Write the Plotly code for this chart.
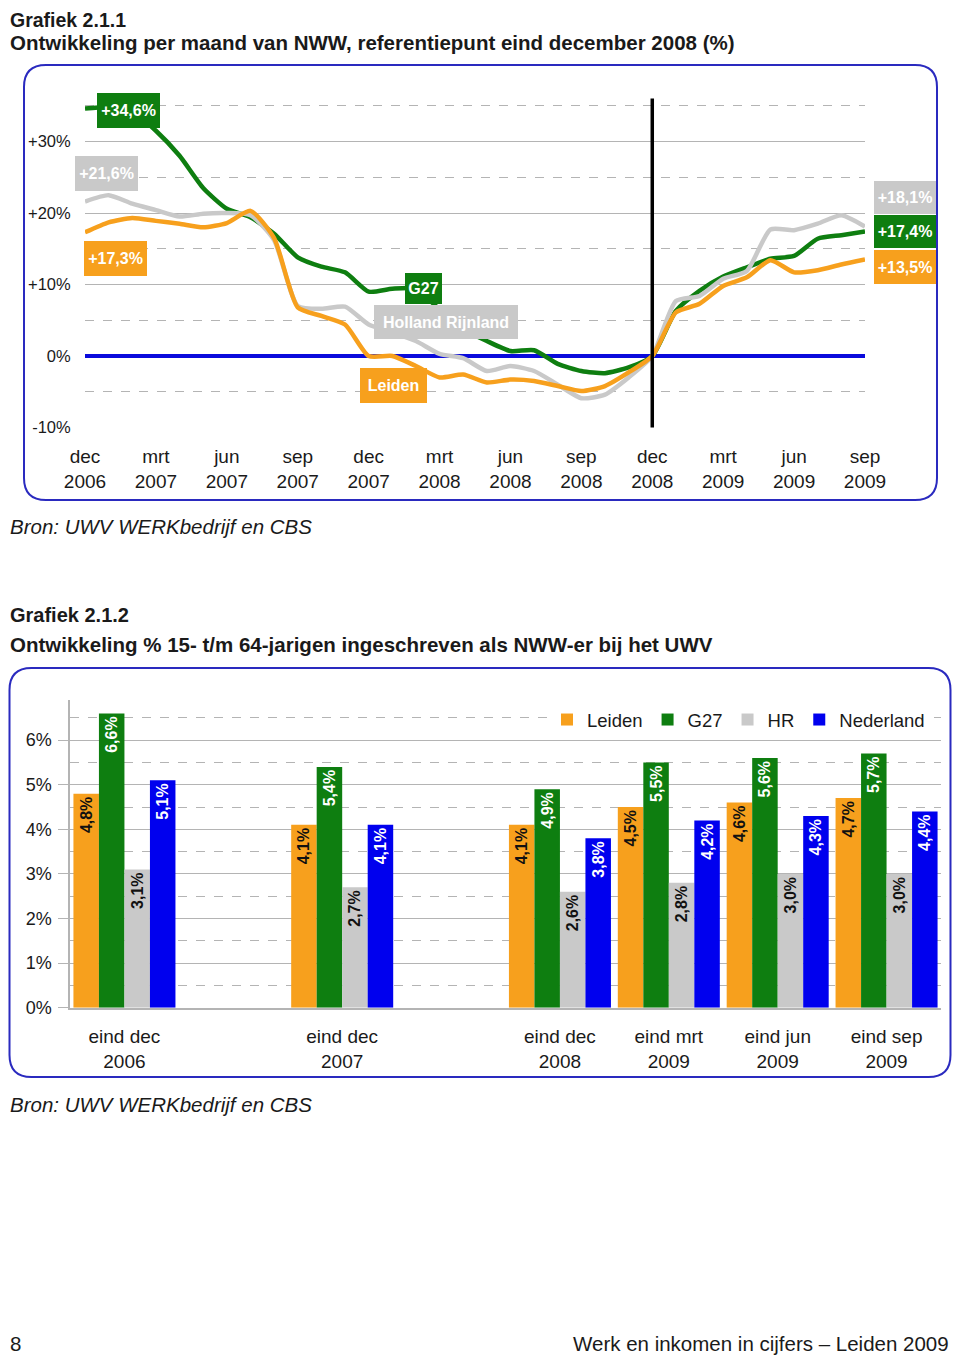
import plotly.graph_objects as go

# ---------------- data: chart 1 (monthly development, ref = dec 2008) ----------------
months = ["dec 2006", "jan 2007", "feb 2007", "mrt 2007", "apr 2007", "mei 2007", "jun 2007",
          "jul 2007", "aug 2007", "sep 2007", "okt 2007", "nov 2007", "dec 2007",
          "jan 2008", "feb 2008", "mrt 2008", "apr 2008", "mei 2008", "jun 2008",
          "jul 2008", "aug 2008", "sep 2008", "okt 2008", "nov 2008", "dec 2008",
          "jan 2009", "feb 2009", "mrt 2009", "apr 2009", "mei 2009", "jun 2009",
          "jul 2009", "aug 2009", "sep 2009"]
tick_months = ["dec 2006", "mrt 2007", "jun 2007", "sep 2007", "dec 2007", "mrt 2008",
               "jun 2008", "sep 2008", "dec 2008", "mrt 2009", "jun 2009", "sep 2009"]
tick_text = ["dec<br>2006", "mrt<br>2007", "jun<br>2007", "sep<br>2007", "dec<br>2007", "mrt<br>2008",
             "jun<br>2008", "sep<br>2008", "dec<br>2008", "mrt<br>2009", "jun<br>2009", "sep<br>2009"]
reference_month = "dec 2008"

leiden = [17.3, 18.7, 19.3, 18.9, 18.5, 18.0, 18.6, 20.3, 16.5, 6.8, 5.6, 4.4, 0.0, 0.0, -1.4,
          -3.0, -2.6, -3.7, -3.3, -3.5, -4.2, -4.9, -4.2, -2.3, 0.0, 6.1, 7.3, 9.8, 11.0, 13.4,
          11.7, 12.0, 12.8, 13.5]
g27 = [34.6, 34.8, 34.2, 31.5, 28.0, 23.5, 20.6, 19.4, 17.1, 13.8, 12.5, 11.7, 9.0, 9.4, 9.4,
       6.5, 3.8, 2.1, 0.7, 0.8, -1.1, -2.1, -2.4, -1.6, 0.0, 6.3, 9.1, 11.1, 12.4, 13.6,
       14.0, 16.4, 16.9, 17.4]
hr = [21.6, 22.5, 21.3, 20.4, 19.5, 19.9, 20.0, 19.7, 16.2, 7.0, 6.6, 6.9, 4.4, 3.3, 2.1,
      0.3, -0.3, -2.1, -1.4, -2.1, -4.0, -5.9, -5.4, -3.0, 0.0, 7.7, 8.4, 10.8, 11.9, 17.7,
      17.6, 18.5, 19.7, 18.1]

y1_tickvals = [-10, 0, 10, 20, 30]
y1_ticktext = ["-10%", "0%", "+10%", "+20%", "+30%"]
y1_minor = [-5, 5, 15, 25, 35]

# ---------------- data: chart 2 (% NWW of 15-64 year olds) ----------------
bar_slots = ["eind dec<br>2006", " ", "eind dec<br>2007", "  ", "eind dec<br>2008",
             "eind mrt<br>2009", "eind jun<br>2009", "eind sep<br>2009"]
bar_categories = ["eind dec<br>2006", "eind dec<br>2007", "eind dec<br>2008",
                  "eind mrt<br>2009", "eind jun<br>2009", "eind sep<br>2009"]
leiden_bar = [4.8, 4.1, 4.1, 4.5, 4.6, 4.7]
g27_bar = [6.6, 5.4, 4.9, 5.5, 5.6, 5.7]
hr_bar = [3.1, 2.7, 2.6, 2.8, 3.0, 3.0]
nl_bar = [5.1, 4.1, 3.8, 4.2, 4.3, 4.4]

# ---------------- styling ----------------
# the page body has an 8px margin on every side: size the figure to fit inside the window
OFF = 8
W, H = 960 - 2 * OFF, 1364 - 2 * OFF
FONT = "Liberation Sans, Arial, Helvetica, sans-serif"
ORANGE = "#F7A01D"
GREEN = "#0E7E10"
GREY = "#C9C9C9"
BLUE = "#0000EE"
ZERO_BLUE = "#0A0ADC"
FRAME = "#2A2ABF"
GRID = "#B4B4B4"
TEXT = "#1A1A1A"


def PX(x):
    return min(max(x - OFF, 0), W) / W


def PY(y):
    return 1 - min(max(y - OFF, 0), H) / H


def pct(v):
    return ("+" if v >= 0 else "") + f"{v:.1f}".replace(".", ",") + "%"


def rounded_rect(x0, y0, x1, y1, r):
    pts = [
        ("M", [(x0 + r, y0)]), ("L", [(x1 - r, y0)]), ("Q", [(x1, y0), (x1, y0 + r)]),
        ("L", [(x1, y1 - r)]), ("Q", [(x1, y1), (x1 - r, y1)]), ("L", [(x0 + r, y1)]),
        ("Q", [(x0, y1), (x0, y1 - r)]), ("L", [(x0, y0 + r)]), ("Q", [(x0, y0), (x0 + r, y0)]),
    ]
    s = ""
    for cmd, ps in pts:
        s += cmd + " " + " ".join(f"{PX(a):.5f},{PY(b):.5f}" for a, b in ps) + " "
    return s + "Z"


fig = go.Figure()

# line chart
for name, vals, color in [("G27", g27, GREEN), ("Holland Rijnland", hr, GREY), ("Leiden", leiden, ORANGE)]:
    fig.add_trace(go.Scatter(
        x=months, y=vals, mode="lines", name=name, showlegend=False,
        line=dict(color=color, width=4.5, shape="spline", smoothing=0.6),
        xaxis="x", yaxis="y", hoverinfo="skip"))

# bar chart
for name, vals, color, tcol in [("Leiden", leiden_bar, ORANGE, "#111111"),
                                ("G27", g27_bar, GREEN, "white"),
                                ("HR", hr_bar, GREY, "#111111"),
                                ("Nederland", nl_bar, BLUE, "white")]:
    fig.add_trace(go.Bar(
        x=bar_categories, y=vals, name=name, marker=dict(color=color, line=dict(width=0)),
        texttemplate="%{y:.1f}%", textposition="inside", insidetextanchor="end",
        textangle=-90, insidetextfont=dict(color=tcol, size=16, family=FONT, weight="bold"),
        xaxis="x2", yaxis="y2", hoverinfo="skip"))

ref_idx = months.index(reference_month)

shapes = [
    dict(type="path", path=rounded_rect(24, 65, 937, 500, 22), xref="paper", yref="paper",
         line=dict(color=FRAME, width=2), layer="below"),
    dict(type="path", path=rounded_rect(9.5, 668, 950.5, 1077, 22), xref="paper", yref="paper",
         line=dict(color=FRAME, width=2), layer="below"),
    dict(type="line", xref="x", yref="y domain", x0=ref_idx, x1=ref_idx, y0=0, y1=1,
         line=dict(color="black", width=3.5), layer="above"),
]

annotations = []


def txt(text, x, y, size, bold=False, italic=False, xanchor="left", color=TEXT):
    t = text
    if bold:
        t = "<b>" + t + "</b>"
    if italic:
        t = "<i>" + t + "</i>"
    annotations.append(dict(text=t, x=PX(x), y=PY(y), xref="paper", yref="paper",
                            xanchor=xanchor, yanchor="middle", showarrow=False,
                            font=dict(family=FONT, size=size, color=color)))


txt("Grafiek 2.1.1", 1, 20, 19.5, bold=True)
txt("Ontwikkeling per maand van NWW, referentiepunt eind december 2008 (%)", 1, 42, 20.5, bold=True)
txt("Bron: UWV WERKbedrijf en CBS", 1, 527, 20.5, italic=True)
txt("Grafiek 2.1.2", 1, 615, 20, bold=True)
txt("Ontwikkeling % 15- t/m 64-jarigen ingeschreven als NWW-er bij het UWV", 1, 644, 20.5, bold=True)
txt("Bron: UWV WERKbedrijf en CBS", 1, 1104, 20.5, italic=True)
txt("8", 1, 1343, 20.5)
txt("Werk en inkomen in cijfers \u2013 Leiden 2009", 951, 1343, 20.5, xanchor="right")


def box(text, cx, cy, w, h, color, size=16):
    annotations.append(dict(text="<b>" + text + "</b>", x=PX(cx), y=PY(cy), xref="paper",
                            yref="paper", xanchor="center", yanchor="middle", showarrow=False,
                            width=w, height=h, bgcolor=color, borderpad=0, borderwidth=0,
                            font=dict(family=FONT, size=size, color="white")))


box(pct(g27[0]), 128.5, 111, 63, 35, GREEN)
box(pct(hr[0]), 106, 173.5, 63, 35, GREY)
box(pct(leiden[0]), 115.7, 258.5, 63, 35, ORANGE)
box("G27", 423.7, 288, 37, 31, GREEN)
box("Holland Rijnland", 446, 322, 144, 34, GREY)
box("Leiden", 393.3, 385.5, 67, 35, ORANGE)
box(pct(hr[-1]), 904.5, 197.3, 62, 33, GREY)
box(pct(g27[-1]), 904.5, 231.7, 62, 33, GREEN)
box(pct(leiden[-1]), 904.5, 267.5, 62, 34, ORANGE)

fig.update_layout(
    width=W, height=H, margin=dict(l=0, r=0, t=0, b=0, pad=0, autoexpand=False),
    paper_bgcolor="white", plot_bgcolor="white", separators=",.",
    font=dict(family=FONT, color=TEXT),
    showlegend=True, barmode="group", bargap=0.063, bargroupgap=0,
    legend=dict(orientation="h", x=PX(930), xanchor="right", y=PY(720), yanchor="middle",
                font=dict(size=18.5, family=FONT, color=TEXT), bgcolor="white",
                itemclick=False, itemdoubleclick=False, traceorder="normal",
                tracegroupgap=0, itemwidth=30),
    xaxis=dict(domain=[PX(85), PX(865)], anchor="y", type="category", categoryarray=months,
               categoryorder="array", range=[0, len(months) - 1], automargin=False,
               tickmode="array", tickvals=tick_months, ticktext=tick_text,
               showgrid=False, showline=False, zeroline=False,
               ticks="outside", ticklen=12, tickcolor="rgba(0,0,0,0)",
               tickfont=dict(size=19, family=FONT, color=TEXT)),
    yaxis=dict(domain=[PY(427.5), PY(98.6)], anchor="x", range=[-10, 36], automargin=False,
               tickmode="array", tickvals=y1_tickvals, ticktext=y1_ticktext,
               showgrid=True, gridcolor=GRID, gridwidth=1,
               zeroline=True, zerolinecolor=ZERO_BLUE, zerolinewidth=3.5,
               showline=False, ticks="outside", ticklen=10, tickcolor="rgba(0,0,0,0)",
               tickfont=dict(size=16.5, family=FONT, color=TEXT),
               minor=dict(tickmode="array", tickvals=y1_minor, showgrid=True, griddash="dash",
                          gridcolor=GRID, gridwidth=1, ticks="")),
    xaxis2=dict(domain=[PX(70), PX(941)], anchor="y2", type="category", categoryarray=bar_slots,
                categoryorder="array", range=[-0.5, len(bar_slots) - 0.5], automargin=False,
                showgrid=False, showline=True, linecolor=GRID, linewidth=1.5, zeroline=False,
                ticks="outside", ticklen=11, tickcolor="rgba(0,0,0,0)",
                tickfont=dict(size=19, family=FONT, color=TEXT)),
    yaxis2=dict(domain=[PY(1007.7), PY(700)], anchor="x2", range=[0, 6.9], automargin=False,
                tickmode="linear", tick0=0, dtick=1, ticksuffix="%",
                showgrid=True, gridcolor=GRID, gridwidth=1.2, zeroline=False,
                showline=True, linecolor=GRID, linewidth=1.5,
                ticks="outside", ticklen=10, tickcolor=GRID, ticklabelstandoff=3,
                tickfont=dict(size=18, family=FONT, color=TEXT),
                minor=dict(tick0=0, dtick=0.5, showgrid=True, griddash="dash",
                           gridcolor=GRID, gridwidth=1, ticks="")),
    shapes=shapes, annotations=annotations,
)

fig.write_html("out.html")
